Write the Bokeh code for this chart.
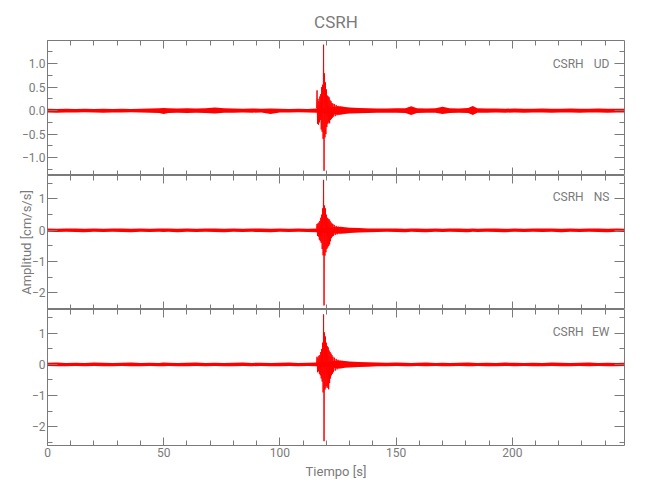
from bokeh.plotting import figure
from bokeh.layouts import column
from bokeh.models import (Range1d, FixedTicker, LinearAxis, Label,
                          CustomLabelingPolicy, AllLabels)
from bokeh.embed import file_html
from bokeh.resources import INLINE

# ---------------- data ----------------
STATION = "CSRH"
components = ["UD", "NS", "EW"]

x_ticks = [0, 50, 100, 150, 200]
x_minor = [0, 10, 20, 30, 40, 50, 60, 70, 80, 90, 100, 110, 120, 130, 140,
           150, 160, 170, 180, 190, 200, 210, 220, 230, 240]
t_end = 248.3

ud_ticks = [-1.0, -0.5, 0.0, 0.5, 1.0]
ud_tick_labels = ["\u22121.0", "\u22120.5", "0.0", "0.5", "1.0"]
ud_minor = [-1.25, -1.0, -0.75, -0.5, -0.25, 0.0, 0.25, 0.5, 0.75, 1.0, 1.25]
hz_ticks = [-2, -1, 0, 1]
hz_tick_labels = ["\u22122", "\u22121", "0", "1"]
hz_minor = [-2.5, -2.0, -1.5, -1.0, -0.5, 0.0, 0.5, 1.0, 1.5]

ud_yrange = (-1.38, 1.49)
ns_yrange = (-2.53, 1.75)
ew_yrange = (-2.61, 1.77)

# background noise envelope (time, upper, lower)
env_t = [0, 4, 8, 12, 16, 20, 24, 28, 32, 36,
         40, 44, 48, 50, 52, 56, 60, 64, 68, 72,
         76, 80, 84, 88, 92, 96, 100, 104, 108, 112,
         115.8, 126.2, 128, 130, 134, 138, 142, 146, 150, 154,
         156.5, 159, 163, 167, 170, 173, 177, 181, 183, 185,
         189, 193, 197, 201, 205, 209, 213, 217, 221, 225,
         229, 233, 237, 241, 245, 248.3]

ud_hi = [0.04, 0.035, 0.04, 0.035, 0.04, 0.035, 0.04, 0.035, 0.04, 0.035,
         0.04, 0.045, 0.05, 0.055, 0.05, 0.045, 0.05, 0.045, 0.05, 0.065,
         0.05, 0.045, 0.04, 0.045, 0.04, 0.045, 0.04, 0.035, 0.04, 0.035,
         0.045, 0.09, 0.075, 0.065, 0.055, 0.05, 0.045, 0.045, 0.05, 0.05,
         0.09, 0.05, 0.045, 0.05, 0.08, 0.05, 0.045, 0.055, 0.095, 0.05,
         0.045, 0.045, 0.04, 0.045, 0.04, 0.04, 0.045, 0.04, 0.04, 0.045,
         0.04, 0.04, 0.045, 0.04, 0.04, 0.04]
ud_lo = [-0.04, -0.045, -0.04, -0.04, -0.035, -0.04, -0.045, -0.04, -0.04, -0.035,
         -0.04, -0.045, -0.05, -0.07, -0.05, -0.045, -0.05, -0.045, -0.05, -0.06,
         -0.045, -0.045, -0.04, -0.045, -0.04, -0.07, -0.04, -0.04, -0.035, -0.04,
         -0.045, -0.09, -0.075, -0.06, -0.055, -0.05, -0.045, -0.045, -0.045, -0.05,
         -0.095, -0.05, -0.045, -0.045, -0.075, -0.05, -0.045, -0.05, -0.095, -0.045,
         -0.045, -0.04, -0.045, -0.04, -0.045, -0.04, -0.04, -0.045, -0.04, -0.04,
         -0.045, -0.04, -0.04, -0.045, -0.04, -0.04]

ns_hi = [0.055, 0.05, 0.055, 0.06, 0.05, 0.055, 0.05, 0.055, 0.06, 0.05,
         0.055, 0.05, 0.055, 0.06, 0.055, 0.05, 0.055, 0.05, 0.06, 0.055,
         0.05, 0.055, 0.05, 0.055, 0.06, 0.05, 0.055, 0.05, 0.055, 0.05,
         0.06, 0.11, 0.1, 0.085, 0.07, 0.06, 0.055, 0.06, 0.055, 0.05,
         0.055, 0.06, 0.05, 0.055, 0.05, 0.055, 0.06, 0.05, 0.055, 0.05,
         0.055, 0.06, 0.05, 0.055, 0.05, 0.055, 0.06, 0.055, 0.05, 0.055,
         0.05, 0.055, 0.06, 0.05, 0.055, 0.05]
ns_lo = [-0.05, -0.055, -0.05, -0.055, -0.06, -0.05, -0.055, -0.05, -0.055, -0.06,
         -0.05, -0.055, -0.05, -0.055, -0.05, -0.06, -0.05, -0.055, -0.05, -0.055,
         -0.06, -0.05, -0.055, -0.05, -0.055, -0.06, -0.05, -0.055, -0.05, -0.055,
         -0.06, -0.11, -0.1, -0.085, -0.07, -0.06, -0.055, -0.05, -0.055, -0.06,
         -0.05, -0.055, -0.06, -0.05, -0.055, -0.05, -0.055, -0.06, -0.05, -0.055,
         -0.05, -0.055, -0.06, -0.05, -0.055, -0.05, -0.055, -0.05, -0.06, -0.05,
         -0.055, -0.05, -0.055, -0.06, -0.05, -0.055]

ew_hi = [0.055, 0.06, 0.05, 0.055, 0.05, 0.06, 0.055, 0.05, 0.055, 0.06,
         0.05, 0.055, 0.05, 0.06, 0.055, 0.05, 0.055, 0.06, 0.05, 0.055,
         0.05, 0.055, 0.06, 0.05, 0.055, 0.05, 0.055, 0.06, 0.05, 0.055,
         0.06, 0.13, 0.11, 0.095, 0.08, 0.07, 0.06, 0.055, 0.06, 0.055,
         0.05, 0.055, 0.06, 0.05, 0.055, 0.05, 0.055, 0.06, 0.055, 0.05,
         0.055, 0.05, 0.06, 0.055, 0.05, 0.055, 0.05, 0.06, 0.055, 0.05,
         0.055, 0.06, 0.05, 0.055, 0.05, 0.055]
ew_lo = [-0.05, -0.055, -0.06, -0.05, -0.055, -0.05, -0.055, -0.06, -0.05, -0.055,
         -0.055, -0.05, -0.06, -0.055, -0.05, -0.055, -0.06, -0.05, -0.055, -0.05,
         -0.055, -0.06, -0.05, -0.055, -0.05, -0.055, -0.06, -0.05, -0.055, -0.05,
         -0.06, -0.13, -0.11, -0.095, -0.08, -0.07, -0.06, -0.055, -0.05, -0.055,
         -0.06, -0.05, -0.055, -0.05, -0.06, -0.055, -0.05, -0.055, -0.06, -0.05,
         -0.055, -0.06, -0.05, -0.055, -0.05, -0.06, -0.055, -0.05, -0.055, -0.06,
         -0.05, -0.055, -0.05, -0.06, -0.055, -0.05]

# strong-motion portion, sample by sample
ev_t = [115.8, 116.0, 116.2, 116.4, 116.6, 116.8, 117.0, 117.2, 117.4, 117.6,
        117.8, 118.0, 118.2, 118.4, 118.6, 118.8, 119.0, 119.2, 119.4, 119.6,
        119.8, 120.0, 120.2, 120.4, 120.6, 120.8, 121.0, 121.2, 121.4, 121.6,
        121.8, 122.0, 122.2, 122.4, 122.6, 122.8, 123.0, 123.4, 123.8, 124.2,
        124.6, 125.0, 125.4, 125.8, 126.2]

ud_ev = [0.05, 0.43, -0.28, 0.25, -0.3, 0.2, -0.25, 0.3, -0.2, 0.35,
         -0.4, 0.5, -0.45, 0.55, -0.6, 1.40, -1.28, 0.79, -0.57, 0.6,
         -0.5, 0.45, -0.35, 0.32, -0.28, 0.3, -0.25, 0.28, -0.27, 0.22,
         -0.2, 0.2, -0.18, 0.16, -0.15, 0.15, -0.13, 0.14, -0.12, 0.12,
         -0.1, 0.1, -0.09, 0.08, -0.07]
ns_ev = [0.05, 0.2, -0.18, 0.22, -0.2, 0.25, -0.3, 0.3, -0.35, 0.4,
         -0.4, 0.5, -0.6, 0.7, -0.8, 1.61, -2.40, 0.79, -0.81, 0.7,
         -0.7, 0.5, -0.6, 0.4, -0.55, 0.37, -0.5, 0.35, -0.45, 0.3,
         -0.35, 0.25, -0.25, 0.22, -0.2, 0.2, -0.18, 0.17, -0.15, 0.14,
         -0.13, 0.12, -0.1, 0.1, -0.09]
ew_ev = [0.05, 0.25, -0.25, 0.2, -0.22, 0.28, -0.3, 0.3, -0.35, 0.4,
         -0.45, 0.5, -0.55, 0.7, -0.9, 1.61, -2.47, 1.03, -0.81, 0.9,
         -0.75, 0.7, -0.7, 0.59, -0.75, 0.55, -0.8, 0.45, -0.6, 0.4,
         -0.45, 0.35, -0.35, 0.3, -0.3, 0.25, -0.25, 0.22, -0.2, 0.18,
         -0.16, 0.15, -0.13, 0.12, -0.11]

# ---------------- styling ----------------
GRAY = "#7a7a7a"
RED = "#ff0000"
FONT = "Roboto"

x_range = Range1d(0, t_end)

HIDE_LABELS = """
for (const i of indices) indices.unset(i)
return indices
"""


def style_axis(ax, major_in, labels=True):
    ax.axis_line_color = None
    ax.major_tick_line_color = GRAY
    ax.minor_tick_line_color = GRAY
    ax.major_tick_in = major_in
    ax.major_tick_out = 0
    ax.minor_tick_in = 5
    ax.minor_tick_out = 0
    ax.major_label_text_color = GRAY
    ax.major_label_text_font = FONT
    ax.major_label_standoff = 2
    if labels:
        ax.major_label_text_font_size = "12px"
        ax.major_label_policy = AllLabels()
    else:
        ax.major_label_text_font_size = "0px"
        ax.major_label_standoff = 0
        ax.major_label_policy = CustomLabelingPolicy(code=HIDE_LABELS)
    ax.axis_label_text_color = GRAY
    ax.axis_label_text_font = FONT
    ax.axis_label_text_font_style = "normal"
    ax.axis_label_text_font_size = "13px"


def panel(comp, yr, yt, ylabels, ym, hi, lo, ev, height, top, bottom,
          xlabels=False, ylabel=None, title=None, label_y=1.0):
    p = figure(width=644, height=height, x_range=x_range,
               y_range=Range1d(*yr), output_backend="svg",
               toolbar_location=None, x_axis_location=None,
               y_axis_location=None, min_border_left=47,
               min_border_right=20, min_border_top=top,
               min_border_bottom=bottom)
    p.grid.visible = False
    p.outline_line_color = GRAY
    p.background_fill_color = "white"
    p.border_fill_color = "white"

    left = LinearAxis(ticker=FixedTicker(ticks=yt, minor_ticks=ym))
    style_axis(left, 10)
    left.major_label_overrides = {t: s for t, s in zip(yt, ylabels)}
    if ylabel:
        left.axis_label = ylabel
        left.axis_label_standoff = -5
    p.add_layout(left, "left")
    right = LinearAxis(ticker=FixedTicker(ticks=yt, minor_ticks=ym))
    style_axis(right, 10, labels=False)
    p.add_layout(right, "right")
    below = LinearAxis(ticker=FixedTicker(ticks=x_ticks, minor_ticks=x_minor))
    style_axis(below, 8, labels=xlabels)
    if xlabels:
        below.axis_label = "Tiempo [s]"
        below.axis_label_standoff = 4
    p.add_layout(below, "below")
    above = LinearAxis(ticker=FixedTicker(ticks=x_ticks, minor_ticks=x_minor))
    style_axis(above, 8, labels=False)
    p.add_layout(above, "above")

    if title:
        p.title.text = title
        p.title.align = "center"
        p.title.text_font = FONT
        p.title.text_font_size = "17px"
        p.title.text_font_style = "normal"
        p.title.text_color = GRAY
        p.title.standoff = 17

    p.varea(x=env_t, y1=lo, y2=hi, fill_color=RED, fill_alpha=1.0)
    p.line(x=ev_t, y=ev, line_color=RED, line_width=1)

    p.add_layout(Label(x=230.7, y=label_y, text=STATION, text_align="right",
                       text_baseline="middle", text_color=GRAY,
                       text_font=FONT, text_font_size="12px"))
    p.add_layout(Label(x=241.8, y=label_y, text=comp, text_align="right",
                       text_baseline="middle", text_color=GRAY,
                       text_font=FONT, text_font_size="12px"))
    return p


p1 = panel(components[0], ud_yrange, ud_ticks, ud_tick_labels, ud_minor,
           ud_hi, ud_lo, ud_ev, 175, 40, 0, title=STATION, label_y=1.0)
p2 = panel(components[1], ns_yrange, hz_ticks, hz_tick_labels, hz_minor,
           ns_hi, ns_lo, ns_ev, 134, 0, 0, ylabel="Amplitud [cm/s/s]",
           label_y=1.05)
p3 = panel(components[2], ew_yrange, hz_ticks, hz_tick_labels, hz_minor,
           ew_hi, ew_lo, ew_ev, 176, 0, 40, xlabels=True, label_y=1.04)

layout = column(p1, p2, p3, spacing=0)
open("out.html", "w").write(file_html(layout, INLINE))
